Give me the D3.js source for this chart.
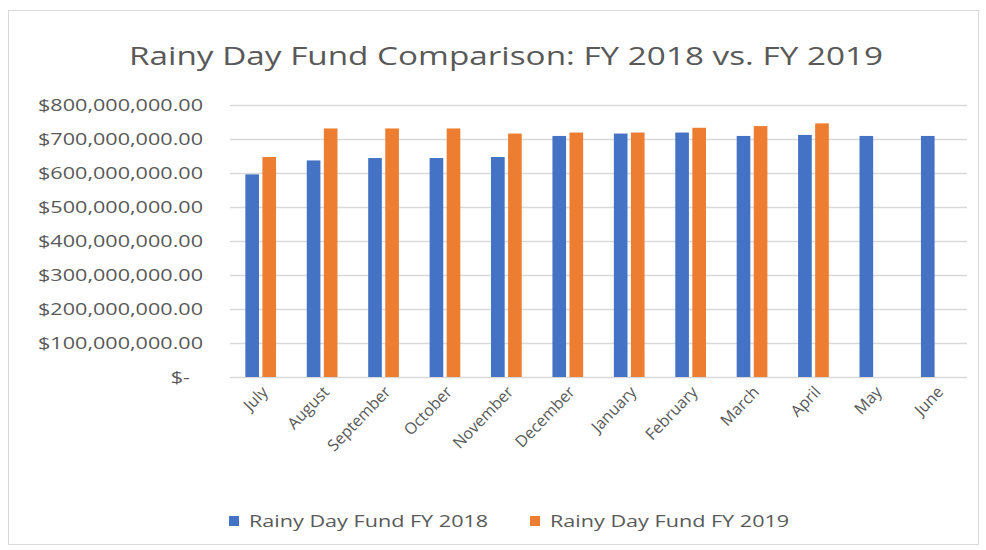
<!DOCTYPE html>
<html>
<head>
<meta charset="utf-8">
<script src="https://cdn.jsdelivr.net/npm/d3@7"></script>
<style>
  body { margin: 0; background: #fff; }
  text { font-family: "Open Sans", "Noto Sans", sans-serif; fill: #595959; }
</style>
</head>
<body>
<div id="chart"></div>
<script>
// chart data
var months = ["July", "August", "September", "October", "November", "December",
    "January", "February", "March", "April", "May", "June"];
var seriesNames = ["Rainy Day Fund FY 2018", "Rainy Day Fund FY 2019"];
var fy2018 = [596e6, 637e6, 644e6, 644e6, 647e6, 709e6, 716e6, 719e6, 709e6, 712e6, 709e6, 709e6];
var fy2019 = [647e6, 731e6, 731e6, 731e6, 716e6, 719e6, 719e6, 733e6, 738e6, 746e6, null, null];
var yTicks = [0, 100e6, 200e6, 300e6, 400e6, 500e6, 600e6, 700e6, 800e6];

var colors = ["#4472C4", "#ED7D31"];
var k = 1.35; // picture is stretched sideways, so stretch the text too

var W = 986, H = 550;
var margin = {top: 105, right: 19, bottom: 173, left: 230},
    width = W - margin.left - margin.right,
    height = H - margin.top - margin.bottom;

var svg = d3.select("#chart").append("svg")
    .attr("width", W)
    .attr("height", H);

// outer frame
svg.append("rect")
    .attr("x", 8.5).attr("y", 10.5)
    .attr("width", 970).attr("height", 534)
    .attr("fill", "#fff")
    .attr("stroke", "#d9d9d9");

var g = svg.append("g")
    .attr("transform", "translate(" + margin.left + "," + margin.top + ")");

var data = months.map(function (m, i) {
    return {month: m, values: [fy2018[i], fy2019[i]]};
});

var x0 = d3.scaleBand()
    .domain(months)
    .range([0, width])
    .paddingInner(0.5)
    .paddingOuter(0.25);

var x1 = d3.scaleBand()
    .domain([0, 1])
    .range([0, x0.bandwidth()])
    .paddingInner(0.2);

var y = d3.scaleLinear()
    .domain([0, 800e6])
    .range([height, 0]);

// gridlines
g.selectAll(".grid")
    .data(yTicks)
    .enter().append("line")
    .attr("class", "grid")
    .attr("x1", 0)
    .attr("x2", width)
    .attr("y1", function (d) { return Math.round(y(d)) + 0.5; })
    .attr("y2", function (d) { return Math.round(y(d)) + 0.5; })
    .attr("stroke", "#d9d9d9")
    .attr("stroke-width", 1.3);

// y axis labels
var yAxis = d3.axisLeft(y)
    .tickValues(yTicks)
    .tickSize(0)
    .tickFormat(function (d) {
        return d === 0 ? "$-" : "$" + d3.format(",.2f")(d);
    });

var ya = g.append("g").call(yAxis);
ya.select(".domain").remove();
ya.selectAll("text")
    .attr("x", function (d) { return (d === 0 ? -40 : -27) / k; })
    .attr("transform", "scale(" + k + ",1)")
    .attr("dy", "0.35em")
    .style("font-size", "16px")
    .style("fill", "#595959");

// bars
var groups = g.selectAll(".month")
    .data(data)
    .enter().append("g")
    .attr("class", "month")
    .attr("transform", function (d) { return "translate(" + x0(d.month) + ",0)"; });

groups.selectAll("rect")
    .data(function (d) {
        return d.values.map(function (v, i) { return {i: i, v: v}; })
            .filter(function (e) { return e.v != null; });
    })
    .enter().append("rect")
    .attr("x", function (d) { return x1(d.i); })
    .attr("width", x1.bandwidth())
    .attr("y", function (d) { return y(d.v); })
    .attr("height", function (d) { return y(0) - y(d.v); })
    .attr("fill", function (d) { return colors[d.i]; });

// x labels, rotated
g.selectAll(".xlab")
    .data(months)
    .enter().append("text")
    .attr("class", "xlab")
    .attr("text-anchor", "end")
    .attr("transform", function (d) {
        return "translate(" + (x0(d) + x0.bandwidth() / 2 + 4) + "," + (height + 12) + ") rotate(-46)";
    })
    .attr("dy", "0.35em")
    .style("font-size", "16px")
    .text(function (d) { return d; });

// title
svg.append("text")
    .attr("transform", "translate(" + 506 + "," + 65 + ") scale(1.28,1)")
    .attr("text-anchor", "middle")
    .style("font-size", "26px")
    .text("Rainy Day Fund Comparison: FY 2018 vs. FY 2019");

// legend
var legend = svg.selectAll(".legend")
    .data(seriesNames)
    .enter().append("g")
    .attr("class", "legend")
    .attr("transform", function (d, i) {
        return "translate(" + (229 + i * 301) + ",516)";
    });

legend.append("rect")
    .attr("width", 10)
    .attr("height", 10)
    .attr("fill", function (d, i) { return colors[i]; });

legend.append("text")
    .attr("transform", "translate(20,5) scale(" + k + ",1)")
    .attr("dy", "0.35em")
    .style("font-size", "16px")
    .text(function (d) { return d; });
</script>
</body>
</html>
